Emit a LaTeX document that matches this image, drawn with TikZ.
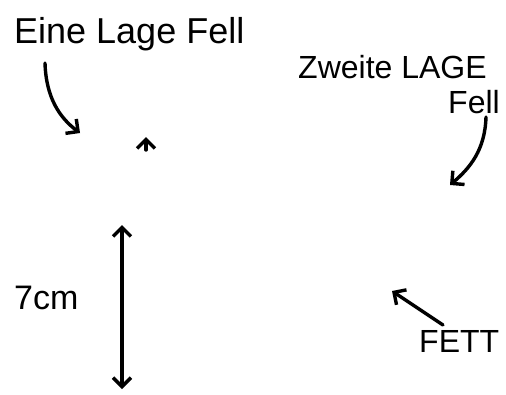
\documentclass[tikz,border=0pt]{standalone}
\usepackage{fontspec}
\setmainfont{Liberation Sans}
\usetikzlibrary{arrows.meta}
\begin{document}
\begin{tikzpicture}[x=1pt,y=-1pt,
  lbl/.style={inner sep=0pt,anchor=base west,text=black},
  pen/.style={line width=3.4pt,line cap=round,line join=round,-{Straight Barb[length=9pt,width=18pt,line width=3.4pt]}},
  pen2/.style={line width=3.4pt,line cap=round,line join=round,{Straight Barb[length=9pt,width=18pt,line width=3.4pt]}-{Straight Barb[length=9pt,width=18pt,line width=3.4pt]}}]
\useasboundingbox (0,0) rectangle (506,394);
\node[lbl] (t1) at (14,43) {\fontsize{36}{40}\selectfont Eine Lage Fell};
\node[lbl] (t2) at (298,78) {\fontsize{32}{36}\selectfont Zweite LAGE};
\node[lbl,anchor=base east] (t3) at (500,113) {\fontsize{32}{36}\selectfont Fell};
\node[lbl] (t4) at (14,309) {\fontsize{34}{38}\selectfont 7cm};
\node[lbl] (t5) at (419,352) {\fontsize{32}{36}\selectfont FETT};
\coordinate (a1s) at (45,63);
\coordinate (a1e) at (80,133);
\coordinate (a2s) at (146,150);
\coordinate (a2e) at (146,137);
\coordinate (a3s) at (486,117);
\coordinate (a3e) at (450,185);
\coordinate (a4s) at (122,225);
\coordinate (a4e) at (122,389);
\coordinate (a5s) at (443,325);
\coordinate (a5e) at (392,291);
\draw[pen] (a1s) .. controls (46,98) and (60,118) .. (a1e);
\draw[pen] (a2s) -- (a2e);
\draw[pen] (a3s) .. controls (485,150) and (470,168) .. (a3e);
\draw[pen2] (a4s) -- (a4e);
\draw[pen] (a5s) -- (a5e);
\end{tikzpicture}
\end{document}
